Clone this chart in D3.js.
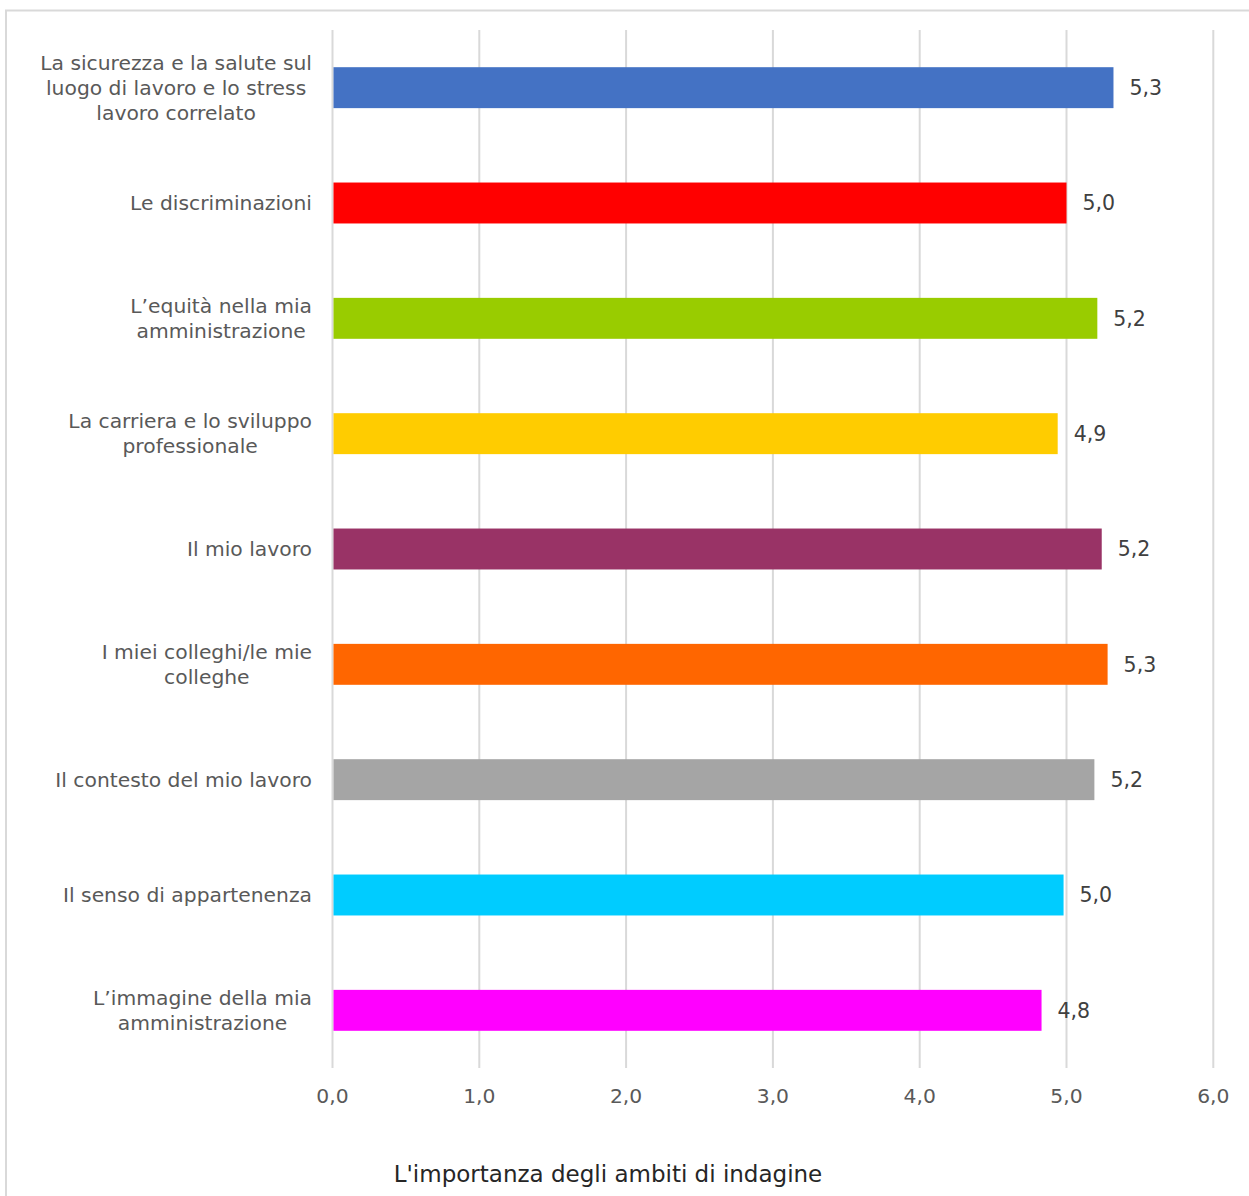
<!DOCTYPE html>
<html><head><meta charset="utf-8">
<script src="https://cdn.jsdelivr.net/npm/d3@7"></script>
<style>body{margin:0;background:#fff}svg{display:block}</style>
</head><body>
<script>
const categories = [
  ["La sicurezza e la salute sul","luogo di lavoro e lo stress","lavoro correlato"],
  ["Le discriminazioni"],
  ["L’equità nella mia","amministrazione"],
  ["La carriera e lo sviluppo","professionale"],
  ["Il mio lavoro"],
  ["I miei colleghi/le mie","colleghe"],
  ["Il contesto del mio lavoro"],
  ["Il senso di appartenenza"],
  ["L’immagine della mia","amministrazione"]
];
const values = [5.32, 5.00, 5.21, 4.94, 5.24, 5.28, 5.19, 4.98, 4.83];
const colors = ["#4472c4","#ff0000","#99cc00","#ffcc00","#993366","#ff6600","#a5a5a5","#00ccff","#ff00ff"];
const ticks = [0,1,2,3,4,5,6];
const title = "L'importanza degli ambiti di indagine";

const W=1249,H=1196;
const svg=d3.select("body").append("svg").attr("width",W).attr("height",H);
svg.append("rect").attr("x",6).attr("y",10.5).attr("width",1260).attr("height",1210)
  .attr("fill","#fff").attr("stroke","#d9d9d9").attr("stroke-width",2);

const x=d3.scaleLinear().domain([0,6]).range([332.5,1213.3]);
const y=d3.scaleBand().domain(d3.range(categories.length)).range([30,1068]).paddingInner(0.645).paddingOuter(0.3225);
const font="DejaVu Sans, Verdana, sans-serif";

// gridlines
svg.append("g").selectAll("line").data(ticks).join("line")
  .attr("x1",d=>x(d)).attr("x2",d=>x(d)).attr("y1",30).attr("y2",1068)
  .attr("stroke","#d9d9d9").attr("stroke-width",2);

// bars
svg.append("g").selectAll("rect").data(values).join("rect")
  .attr("x",x(0)+1).attr("y",(d,i)=>y(i)).attr("height",y.bandwidth())
  .attr("width",d=>x(d)-x(0)-1).attr("fill",(d,i)=>colors[i]);

// value labels
svg.append("g").selectAll("text").data(values).join("text")
  .attr("x",d=>x(d)+16).attr("y",(d,i)=>y(i)+y.bandwidth()/2).attr("dy","0.35em")
  .attr("font-family",font).attr("font-size",20.5).attr("fill","#404040")
  .text(d=>d3.format(".1f")(d).replace(".",","));

// category labels
const cg=svg.append("g");
categories.forEach((lines,i)=>{
  const cy=y(i)+y.bandwidth()/2;
  const lh=25;
  const t=cg.append("text").attr("text-anchor","middle")
    .attr("font-family",font).attr("font-size",20.3).attr("fill","#595959");
  lines.forEach((l,j)=>{
    t.append("tspan").attr("x",0).attr("y",cy+(j-(lines.length-1)/2)*lh).attr("dy","0.35em").text(l);
  });
  const bb=t.node().getBBox();
  t.selectAll("tspan").attr("x",312-bb.width/2);
});

// x tick labels
svg.append("g").selectAll("text").data(ticks).join("text")
  .attr("x",d=>x(d)).attr("y",1096).attr("dy","0.35em").attr("text-anchor","middle")
  .attr("font-family",font).attr("font-size",20.3).attr("fill","#595959")
  .text(d=>d3.format(".1f")(d).replace(".",","));

// title
svg.append("text").attr("x",608).attr("y",1174).attr("dy","0.35em").attr("text-anchor","middle")
  .attr("font-family",font).attr("font-size",23).attr("fill","#262626").text(title);
</script>
</body></html>
